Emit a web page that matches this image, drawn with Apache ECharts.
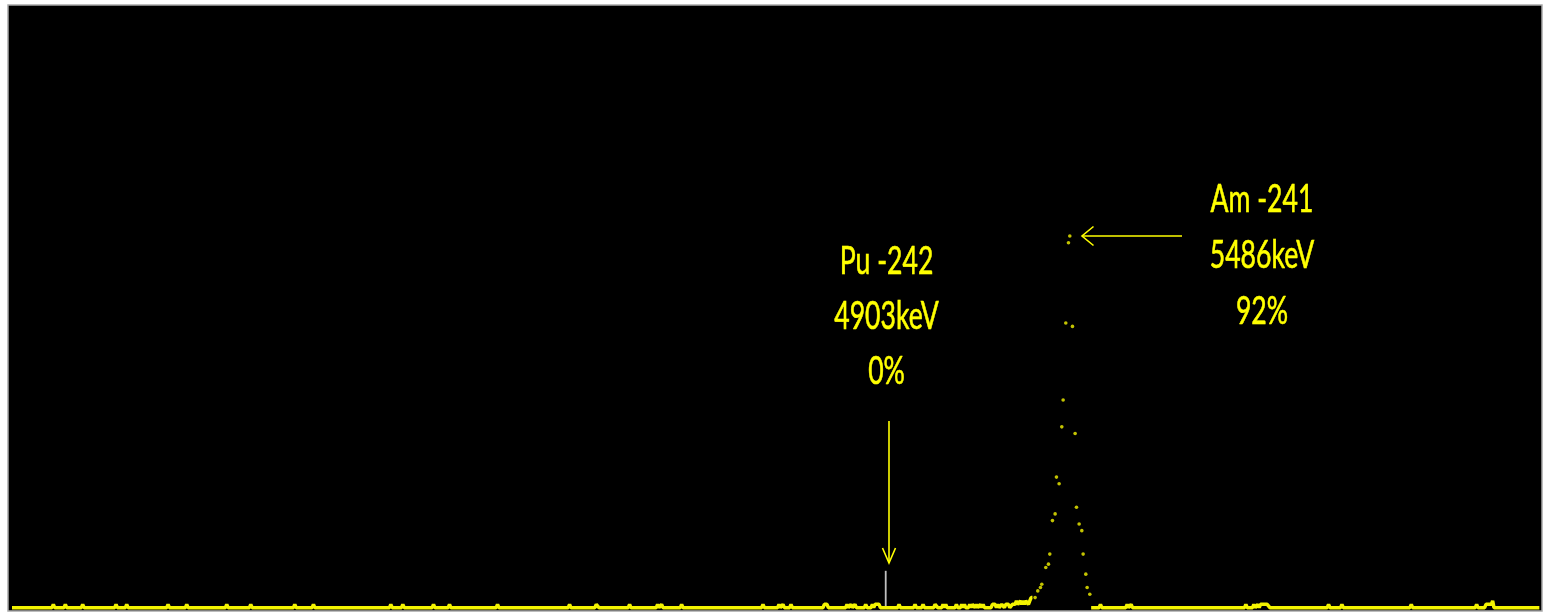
<!DOCTYPE html>
<html><head><meta charset="utf-8">
<script src="https://cdn.jsdelivr.net/npm/echarts@6/dist/echarts.min.js"></script>
<style>html,body{margin:0;padding:0;background:#fff}#c{width:1548px;height:613px}</style>
</head><body><div id="c"></div>
<script>
// Spectrum: [channel, counts]
const baselineLeft = [
  [3,0],[33,0],[34,1],[35,0],[42,0],[43,1],[44,0],[55,0],[56,1],[57,0],
  [80,0],[81,1],[82,0],[88,0],[89,1],[90,0],[119,0],[120,1],[121,0],
  [133,0],[134,1],[135,0],[163,0],[164,1],[165,0],[181,0],[182,1],[183,0],
  [214,0],[215,1],[216,0],[228,0],[229,1],[230,0],[286,0],[287,1],[288,0],
  [295,0],[296,1],[297,0],[318,0],[319,1],[320,0],[330,0],[331,1],[332,0],
  [366,0],[367,1],[368,0],[420,0],[421,1],[422,0],[440,0],[441,1],[442,1],[443,0],
  [465,0],[466,1],[467,0],[486,0],[487,1],[488,0],[489,0],[490,1],[491,0],
  [504,0],[505,1],[506,0],[565,0],[566,1],[567,0],[577,0],[578,1],[579,0],
  [580,0],[581,1],[582,0],[586,0],[587,1],[588,0],[611,0],[612,1],[614,1],[615,0],
  [628,0],[629,1],[630,0],[631,0],[632,1],[633,0],[634,0],[635,1],[636,0],
  [642,0],[643,1],[644,0],[647,0],[648,1],[649,0],[650,1],[651,1],[653,1],[654,0],
  [667,0],[668,1],[669,0],[679,0],[680,1],[681,0],[685,0],[686,1],[687,0],
  [694,0],[695,1],[696,1],[697,0],[700,0],[701,1],[702,0],[703,1],[704,0],
  [710,0],[711,1],[712,0],[714,0],[715,1],[716,0],[717,1],[718,0],[720,0],
  [721,1],[722,0],[723,1],[724,1],[725,0],[726,1],[727,0],[728,0],[729,1],
  [730,0],[731,1],[732,0],[737,0],[738,1],[739,1],[740,1],[741,0],[742,1],
  [743,0],[744,0],[745,1],[746,1],[747,0],[748,1],[749,1],[750,1],[751,0],
  [752,0],[753,1],[754,1],[755,1],[756,2],[757,1],[758,1],[759,2],[760,1],
  [761,2],[762,1],[763,2],[764,2],[765,1],[766,2],[767,3],[768,3]
];
const peakPoints = [
  [770,3],[772,5],[774,6],[775,7],[778,12],[780,13],[781,16],[783,26],[785,28],
  [786,39],[788,37],[790,54],[791,62],[793,85],[795,109],[796,111],[798,84],
  [800,52],[801,30],[803,25],[805,23],[806,16],[808,10],[809,6],[811,4]
];
const baselineRight = [
  [812,0],[818,0],[819,1],[820,0],[838,0],[839,1],[840,0],[841,0],[842,1],[843,0],
  [927,0],[928,1],[929,0],[933,0],[934,1],[935,0],[936,0],[937,1],[938,0],
  [939,1],[941,1],[944,1],[946,0],[989,0],[990,1],[991,0],[999,0],[1000,1],[1001,0],
  [1051,0],[1052,1],[1053,0],[1100,0],[1101,1],[1102,0],[1107,0],[1108,1],
  [1110,1],[1111,1],[1112,1],[1113,2],[1114,0],[1148,0]
];
const pu242Marker = [[658,0],[658,11]];
const puLabel = ['Pu -242', '4903keV', '0%'];
const amLabel = ['Am -241', '5486keV', '92%'];

const YEL = '#f4f400';
const TXT = '#ffff00';
const chart = echarts.init(document.getElementById('c'), null, {renderer: 'canvas'});

function textEl(t, x, y) {
  return {
    type: 'text', x: x, y: y, scaleX: 0.7, z: 100,
    style: {
      text: t, fill: TXT, font: '38px Lato', fontSize: 38, fontFamily: 'Lato',
      stroke: TXT, lineWidth: 0.6,
      textAlign: 'center', textVerticalAlign: 'middle', align: 'center', verticalAlign: 'middle'
    }
  };
}
const graphics = [];
puLabel.forEach((t, i) => graphics.push(textEl(t, 886.5, 262 + i * 55)));
amLabel.forEach((t, i) => graphics.push(textEl(t, 1262, 200 + i * 56)));
const arrowStyle = {stroke: TXT, lineWidth: 1.6, fill: null};
graphics.push({type: 'polyline', z: 100, shape: {points: [[889, 421], [889, 563]]}, style: arrowStyle});
graphics.push({type: 'polyline', z: 100, shape: {points: [[882.5, 548], [889, 563], [895.5, 548]]}, style: arrowStyle});
graphics.push({type: 'polyline', z: 100, shape: {points: [[1182, 236], [1082, 236]]}, style: arrowStyle});
graphics.push({type: 'polyline', z: 100, shape: {points: [[1093.5, 226.5], [1082, 236], [1093.5, 245.5]]}, style: arrowStyle});

chart.setOption({
  animation: false,
  backgroundColor: '#ffffff',
  grid: {left: 8, top: 5, right: 6, bottom: 2, show: true, backgroundColor: '#000000', borderColor: '#a8a8a8', borderWidth: 1.5},
  xAxis: {type: 'value', min: 0, max: 1150, show: false},
  yAxis: {type: 'value', min: -1, max: 180, show: false},
  graphic: graphics,
  series: [
    {type: 'line', data: pu242Marker, showSymbol: false, silent: true, z: 1,
     lineStyle: {color: '#c0c0c0', width: 1.8}},
    {type: 'line', data: baselineLeft, showSymbol: false, silent: true, z: 2,
     lineStyle: {color: YEL, width: 3.5}},
    {type: 'line', data: baselineRight, showSymbol: false, silent: true, z: 2,
     lineStyle: {color: YEL, width: 3.5}},
    {type: 'scatter', data: peakPoints, symbol: 'circle', symbolSize: 3.6, silent: true, z: 3,
     itemStyle: {color: YEL}}
  ]
});
</script>
</body></html>
